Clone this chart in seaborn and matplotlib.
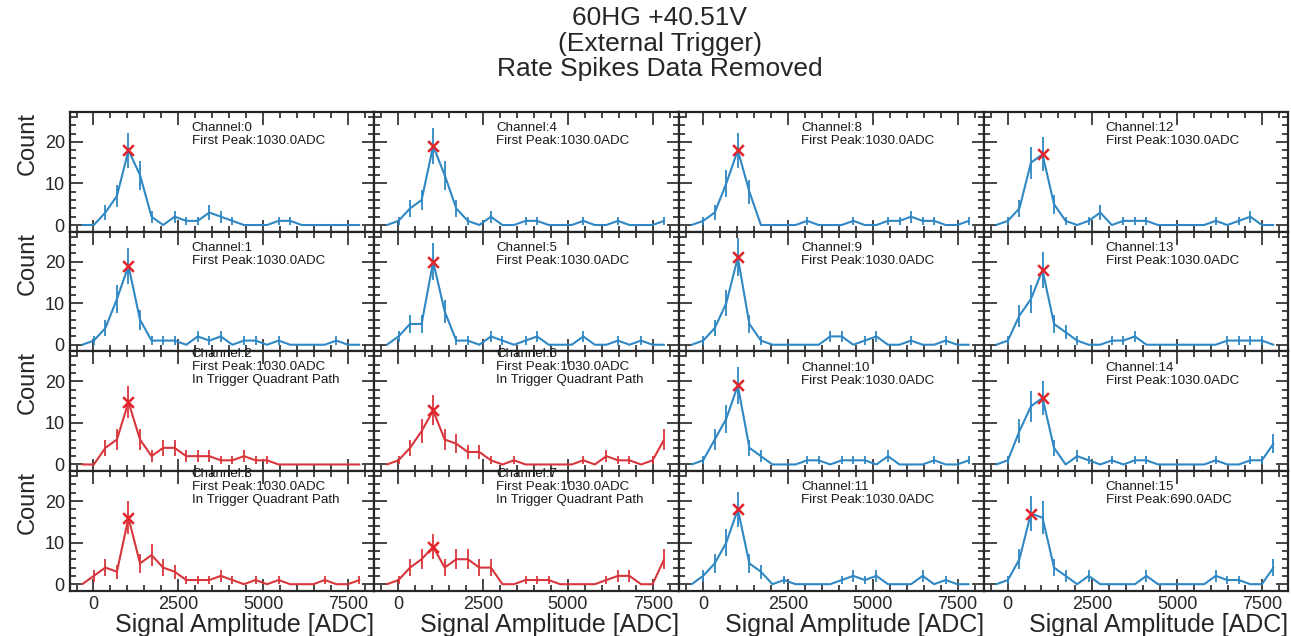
import numpy as np
import pandas as pd
import seaborn as sns
import matplotlib.pyplot as plt
from matplotlib.ticker import AutoMinorLocator, MultipleLocator

# bin centres [ADC]
adc = [-330, 10, 350, 690, 1030, 1370, 1710, 2050, 2390, 2730, 3070, 3410, 3750,
       4090, 4430, 4770, 5110, 5450, 5790, 6130, 6470, 6810, 7150, 7490, 7830]

ch0 = [0, 0, 3, 7, 18, 12, 2, 0, 2, 1, 1, 3, 2, 1, 0, 0, 0, 1, 1, 0, 0, 0, 0, 0, 0]
ch1 = [0, 1, 4, 11, 19, 6, 1, 1, 1, 0, 2, 1, 2, 0, 1, 1, 0, 1, 0, 0, 0, 0, 1, 0, 0]
ch2 = [0, 0, 4, 6, 15, 6, 2, 4, 4, 2, 2, 2, 1, 1, 2, 1, 1, 0, 0, 0, 0, 0, 0, 0, 0]
ch3 = [0, 2, 4, 3, 16, 5, 7, 4, 3, 1, 1, 1, 2, 1, 0, 1, 0, 1, 0, 0, 0, 1, 0, 0, 1]
ch4 = [0, 1, 4, 6, 19, 12, 4, 1, 0, 2, 0, 0, 1, 1, 0, 0, 0, 1, 0, 0, 1, 0, 0, 0, 1]
ch5 = [0, 2, 5, 5, 20, 8, 1, 1, 0, 2, 1, 0, 1, 2, 0, 0, 0, 2, 0, 0, 1, 0, 1, 0, 0]
ch6 = [0, 1, 4, 8, 13, 6, 5, 3, 3, 1, 0, 1, 0, 0, 0, 0, 0, 1, 0, 2, 1, 1, 0, 1, 6]
ch7 = [0, 1, 4, 6, 9, 4, 6, 6, 4, 4, 0, 0, 1, 1, 1, 0, 0, 0, 0, 1, 2, 2, 0, 0, 6]
ch8 = [0, 1, 3, 10, 18, 8, 0, 0, 0, 0, 1, 0, 0, 0, 1, 0, 0, 1, 1, 2, 1, 1, 0, 0, 1]
ch9 = [0, 1, 4, 10, 21, 5, 1, 0, 0, 0, 0, 0, 2, 2, 0, 1, 2, 0, 0, 1, 0, 0, 1, 0, 0]
ch10 = [0, 1, 6, 11, 19, 4, 2, 0, 0, 0, 1, 1, 0, 1, 1, 1, 0, 2, 0, 0, 0, 1, 0, 0, 1]
ch11 = [0, 2, 5, 10, 18, 5, 3, 0, 1, 0, 0, 0, 0, 1, 2, 1, 2, 0, 0, 0, 2, 0, 1, 0, 0]
ch12 = [0, 1, 4, 15, 17, 5, 1, 0, 1, 3, 0, 1, 1, 1, 0, 0, 0, 0, 0, 1, 0, 1, 2, 0, 0]
ch13 = [0, 1, 7, 11, 18, 5, 3, 1, 0, 0, 1, 1, 2, 0, 0, 0, 0, 0, 0, 0, 1, 1, 1, 1, 0]
ch14 = [0, 1, 8, 14, 16, 4, 0, 2, 1, 0, 1, 0, 1, 1, 0, 0, 0, 0, 0, 1, 0, 0, 1, 1, 5]
ch15 = [0, 1, 6, 17, 16, 4, 2, 0, 2, 0, 0, 0, 0, 2, 0, 0, 0, 0, 0, 2, 1, 1, 0, 0, 4]

channels = [ch0, ch1, ch2, ch3, ch4, ch5, ch6, ch7,
            ch8, ch9, ch10, ch11, ch12, ch13, ch14, ch15]
first_peak = [1030, 1030, 1030, 1030, 1030, 1030, 1030, 1030,
              1030, 1030, 1030, 1030, 1030, 1030, 1030, 690]
trigger_path = [2, 3, 6, 7]

title_lines = ["60HG +40.51V", "(External Trigger)", "Rate Spikes Data Removed"]

BLUE = "#2f87c3"
RED = "#d8363c"

sns.set_style("ticks")
plt.rcParams['font.family'] = ['Liberation Sans', 'DejaVu Sans']
plt.rcParams['xtick.direction'] = 'in'
plt.rcParams['ytick.direction'] = 'in'

df = pd.DataFrame({
    "channel": np.repeat(np.arange(16), len(adc)),
    "adc": np.tile(adc, 16),
    "count": np.concatenate(channels),
})

fig, axes = plt.subplots(4, 4, figsize=(12.91, 6.36), dpi=100, sharex=True, sharey=True)
fig.subplots_adjust(left=0.054, right=0.998, top=0.824, bottom=0.071, hspace=0, wspace=0)

for ch in range(16):
    row, col = ch % 4, ch // 4
    ax = axes[row, col]
    d = df[df["channel"] == ch]
    color = RED if ch in trigger_path else BLUE

    sns.lineplot(data=d, x="adc", y="count", ax=ax, color=color, lw=1.5)
    nz = d[d["count"] > 0]
    ax.errorbar(nz["adc"], nz["count"], yerr=np.sqrt(nz["count"]), fmt="none",
                ecolor=color, elinewidth=1.3, capsize=0)

    pk = d[d["adc"] == first_peak[ch]]
    sns.scatterplot(data=pk, x="adc", y="count", ax=ax, marker="x", s=60,
                    color="#e3242b", linewidth=1.8, zorder=5)

    label = f"Channel:{ch}\nFirst Peak:{first_peak[ch]:.1f}ADC"
    ypos = 0.915
    if ch in trigger_path:
        label += "\nIn Trigger Quadrant Path"
        ypos = 1.03
    ax.text(0.4, ypos, label, transform=ax.transAxes, va="top", ha="left",
            fontsize=9.6, linespacing=1.12, color="#1a1a1a")

    ax.set_xlim(-700, 8270)
    ax.set_ylim(-1.6, 27.2)
    ax.xaxis.set_major_locator(MultipleLocator(2500))
    ax.xaxis.set_minor_locator(AutoMinorLocator(5))
    ax.yaxis.set_major_locator(MultipleLocator(10))
    ax.yaxis.set_minor_locator(AutoMinorLocator(5))
    ax.tick_params(which="both", top=True, right=True, width=1.2)
    ax.tick_params(which="major", length=9, labelsize=13)
    ax.tick_params(which="minor", length=4.5)
    for s in ax.spines.values():
        s.set_linewidth(1.6)

    ax.set_xlabel("Signal Amplitude [ADC]" if row == 3 else "", fontsize=18,
                  labelpad=0, loc="right")
    ax.set_ylabel("Count" if col == 0 else "", fontsize=17, loc="top")

for i, t in enumerate(title_lines):
    fig.text(0.511, 1 - (18 + 25.5 * i) / 636, t, ha="center", va="center", fontsize=19)

plt.savefig("out.png", dpi=100)
